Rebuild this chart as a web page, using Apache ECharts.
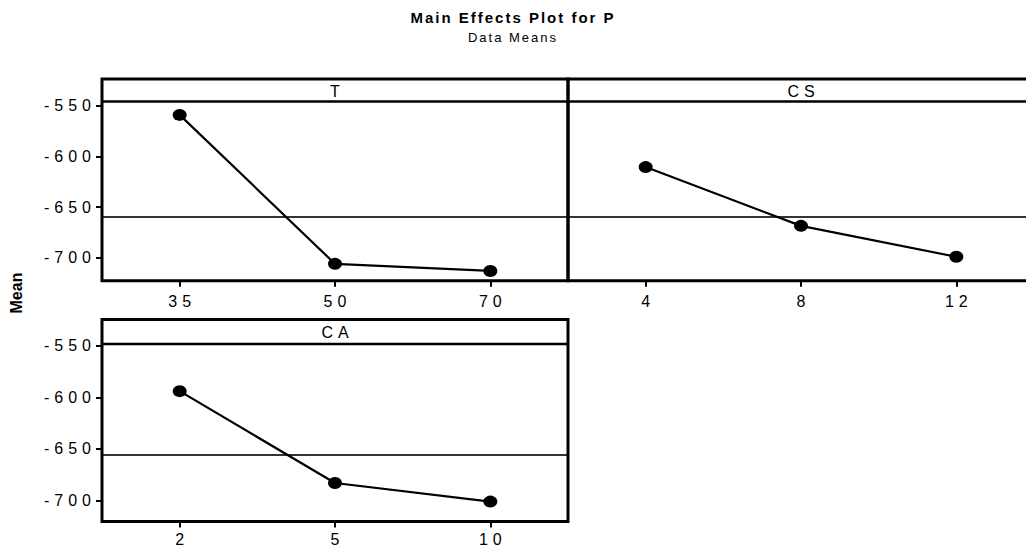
<!DOCTYPE html>
<html>
<head>
<meta charset="utf-8">
<script src="https://cdn.jsdelivr.net/npm/echarts@6/dist/echarts.min.js"></script>
<style>
  html, body { margin: 0; padding: 0; background: #fff; }
  #chart { width: 1026px; height: 548px; }
</style>
</head>
<body>
<div id="chart"></div>
<script>
// Factor levels
const tLevels = ['35', '50', '70'];
const csLevels = ['4', '8', '12'];
const caLevels = ['2', '5', '10'];

// Mean of P at each factor level
const tMeans = [-559, -706, -713];
const csMeans = [-610.5, -668.5, -699];
const caMeans = [-594, -683, -701];

// Overall mean reference line for each row of panels
const grandMeanTop = -659.5;
const grandMeanBottom = -656;

// Y-axis tick values
const yTicks = [-700, -650, -600, -550];

const TITLE = 'Main Effects Plot for P';
const SUBTITLE = 'Data Means';
const Y_NAME = 'Mean';

const FONT = 'Liberation Sans, Arial, sans-serif';
const PANEL_W = 466;
const LS = 5; // letter spacing of axis and strip texts

const panels = [
  { name: 'T',  levels: tLevels,  means: tMeans,  ref: grandMeanTop,
    left: 102, top: 101.5, height: 179.2, strip: 22.5, yMin: -722.6, yMax: -545.8, showY: true, labelMargin: 13 },
  { name: 'CS', levels: csLevels, means: csMeans, ref: grandMeanTop,
    left: 568, top: 101.5, height: 179.2, strip: 22.5, yMin: -722.6, yMax: -545.8, showY: false, labelMargin: 13 },
  { name: 'CA', levels: caLevels, means: caMeans, ref: grandMeanBottom,
    left: 102, top: 344, height: 177.5, strip: 24.5, yMin: -720.3, yMax: -548.3, showY: true, labelMargin: 10 }
];

const title = [
  { text: TITLE, left: 'center', top: 10, padding: 0,
    textStyle: { fontSize: 15, fontWeight: 'bold', color: '#000', fontFamily: FONT } },
  { text: SUBTITLE, left: 'center', top: 31, padding: 0,
    textStyle: { fontSize: 13, fontWeight: 'normal', color: '#000', fontFamily: FONT } }
];
const grid = [], xAxis = [], yAxis = [], series = [], graphic = [];

panels.forEach((p, i) => {
  grid.push({ left: p.left, top: p.top, width: PANEL_W, height: p.height,
              containLabel: false, outerBoundsMode: 'none' });

  xAxis.push({
    type: 'category', gridIndex: i, data: p.levels, boundaryGap: true,
    axisLine: { show: false },
    axisTick: { show: true, alignWithLabel: true, length: 6, lineStyle: { color: '#000', width: 2 } },
    axisLabel: { color: '#000', fontSize: 16, fontFamily: FONT, margin: p.labelMargin,
                 padding: [0, 0, 0, LS] },
    splitLine: { show: false }
  });

  yAxis.push({
    type: 'value', gridIndex: i, min: p.yMin, max: p.yMax,
    axisLine: { show: false },
    axisTick: { show: p.showY, length: 6, customValues: yTicks, lineStyle: { color: '#000', width: 2 } },
    axisLabel: { show: p.showY, customValues: yTicks, color: '#000', fontSize: 16, fontFamily: FONT, margin: 6 },
    splitLine: { show: false }
  });

  series.push({
    type: 'line', xAxisIndex: i, yAxisIndex: i, data: p.means,
    symbol: 'circle', symbolSize: [14, 12],
    itemStyle: { color: '#000' },
    lineStyle: { color: '#000', width: 2.2 },
    z: 5,
    markLine: {
      silent: true, symbol: 'none', label: { show: false },
      lineStyle: { color: '#333', width: 2, type: 'solid', opacity: 1 },
      data: [{ yAxis: p.ref }],
      z: 2
    }
  });

  // factor name centred in the header strip
  title.push({
    text: p.name, left: p.left + PANEL_W / 2 + LS / 2, top: p.top - p.strip / 2 + 1, padding: 0,
    textAlign: 'center', textVerticalAlign: 'middle',
    textStyle: { fontSize: 16, fontWeight: 'normal', color: '#000', fontFamily: FONT }
  });

  // panel frame and header strip divider
  graphic.push({
    type: 'rect', z: 10,
    shape: { x: p.left, y: p.top - p.strip, width: PANEL_W, height: p.strip + p.height },
    style: { fill: 'none', stroke: '#000', lineWidth: 3 }
  });
  graphic.push({
    type: 'line', z: 10,
    shape: { x1: p.left, y1: p.top, x2: p.left + PANEL_W, y2: p.top },
    style: { stroke: '#000', lineWidth: 2.5 }
  });
});

// shared y-axis title placed between the two rows of panels
grid.push({ left: 102, top: 79, width: 10, height: 428, show: false, outerBoundsMode: 'none' });
xAxis.push({ type: 'value', gridIndex: 3, show: false });
yAxis.push({
  type: 'value', gridIndex: 3, show: true,
  axisLine: { show: false }, axisTick: { show: false }, axisLabel: { show: false }, splitLine: { show: false },
  name: Y_NAME, nameLocation: 'middle', nameRotate: 90, nameGap: 78,
  nameTextStyle: { fontSize: 16, fontWeight: 'bold', color: '#000', fontFamily: FONT }
});

const chart = echarts.init(document.getElementById('chart'), null, { renderer: 'svg' });
chart.setOption({
  animation: false,
  backgroundColor: '#fff',
  title, grid, xAxis, yAxis, series, graphic
});

// Wide letter spacing for the plot texts
const spacing = { [TITLE]: 2, [SUBTITLE]: 2, [Y_NAME]: 0 };
function applySpacing() {
  chart.getDom().querySelectorAll('svg text').forEach(el => {
    const s = el.textContent;
    const ls = Object.prototype.hasOwnProperty.call(spacing, s) ? spacing[s] : LS;
    el.setAttribute('letter-spacing', ls);
  });
}
applySpacing();
chart.on('finished', applySpacing);
</script>
</body>
</html>
